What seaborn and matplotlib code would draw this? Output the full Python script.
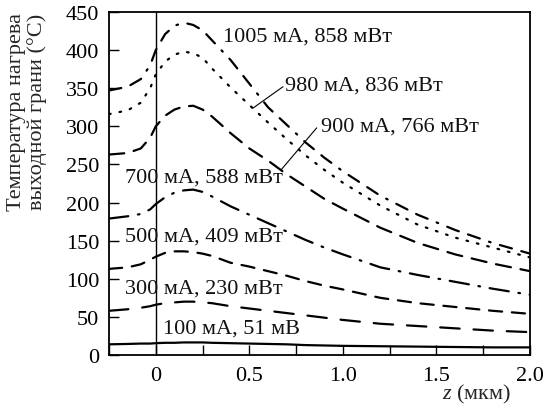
import numpy as np
import pandas as pd
import seaborn as sns
import matplotlib.pyplot as plt

# z coordinate (мкм) and face heating temperature (°C) for each pump current
z = [-0.25, -0.15, -0.08, -0.03, 0.0, 0.05, 0.1, 0.15, 0.2, 0.25, 0.3, 0.4,
     0.5, 0.6, 0.7, 0.8, 0.9, 1.0, 1.2, 1.4, 1.6, 1.8, 2.0]

t_1005 = [347, 352, 362, 380, 400, 421, 432, 436, 433, 426, 413, 387,
          356, 325, 302, 279, 259, 241, 209, 184, 164, 147, 133]
t_980 = [316, 321, 331, 350, 368, 385, 394, 398, 396, 390, 376, 351,
         328, 305, 283, 262, 243, 226, 196, 171, 154, 141, 128]
t_900 = [263, 265, 271, 285, 300, 314, 322, 326, 327, 322, 313, 291,
         271, 255, 237, 221, 205, 192, 167, 147, 132, 120, 110]
t_700 = [179, 182, 185, 191, 198, 207, 213, 216, 217, 214, 208, 195,
         184, 173, 162, 151, 141, 132, 115, 105, 96, 87, 79]
t_500 = [113, 115, 119, 125, 129, 134, 136, 136, 135, 133, 130, 121,
         116, 110, 104, 97, 91, 86, 75, 68, 63, 58, 54]
t_300 = [58, 60, 62, 64, 66, 68, 69, 70, 70, 69, 68, 64,
         61, 58, 55, 52, 49, 46, 41, 38, 35, 32, 30]
t_100 = [14, 14.5, 15, 15, 15.5, 16, 16, 16.5, 16.5, 16.5, 16, 15.5,
         15, 14.5, 14, 13, 12.5, 12, 11.5, 11, 10.5, 10, 10]

labels = ["1005 мА, 858 мВт", "980 мА, 836 мВт", "900 мА, 766 мВт",
          "700 мА, 588 мВт", "500 мА, 409 мВт", "300 мА, 230 мВт",
          "100 мА, 51 мВ"]
curves = [t_1005, t_980, t_900, t_700, t_500, t_300, t_100]

# line styles (points, unscaled)
styles = [(0, (9, 7, 9, 7, 1.2, 7)),
          (0, (1.2, 6.5)),
          (0, (11, 7)),
          (0, (14, 7, 1.2, 7)),
          (0, (9.5, 7)),
          (0, (14, 10)),
          '-']

# label anchor positions (data coords, left edge, vertical centre)
label_pos = [(0.36, 418), (0.69, 354), (0.885, 300), (-0.165, 233),
             (-0.165, 156), (-0.165, 88), (0.04, 35)]

sns.set_style("ticks")
plt.rcParams['font.family'] = ['Liberation Serif', 'DejaVu Serif']
plt.rcParams['mathtext.fontset'] = 'custom'
plt.rcParams['mathtext.it'] = 'Liberation Serif:italic'
plt.rcParams['mathtext.rm'] = 'Liberation Serif'
plt.rcParams['lines.scale_dashes'] = False

fig = plt.figure(figsize=(5.46, 4.14), dpi=100)
ax = fig.add_axes([109 / 546, 58 / 414, 421 / 546, 343 / 414])

for vals, ls in zip(curves, styles):
    df = pd.DataFrame({'z': z, 'T': vals})
    sns.lineplot(data=df, x='z', y='T', ax=ax, color='black', lw=1.6,
                 linestyle=ls, dash_capstyle='round')

ax.axvline(0, color='black', lw=1.0)

for txt, (x, y) in zip(labels, label_pos):
    ax.text(x, y, txt, fontsize=16, ha='left', va='center', color='#111111')

# leader lines for the upper labels
ax.plot([0.52, 0.68], [324, 352], color='black', lw=0.8)
ax.plot([0.67, 0.86], [243, 298], color='black', lw=0.8)

ax.set_xlim(-0.25, 2.0)
ax.set_ylim(0, 450)
ax.set_xticks([0, 0.5, 1.0, 1.5, 2.0])
ax.set_xticklabels(['0', '0.5', '1.0', '1.5', '2.0'])
ax.set_xticks(np.arange(-0.25, 2.01, 0.25), minor=True)
ax.set_yticks(np.arange(0, 451, 50))
ax.tick_params(axis='both', which='both', direction='in', length=7,
               width=1.0, labelsize=16, colors='black')
ax.tick_params(axis='x', pad=8)
ax.tick_params(axis='y', pad=7)

for s in ax.spines.values():
    s.set_linewidth(1.3)
    s.set_color('black')
    s.set_visible(True)

ax.set_xlabel('$z$ (мкм)', fontsize=16)
ax.xaxis.set_label_coords(0.874, -0.08)
ax.set_ylabel('')

fig.text(27 / 546, 1 - 13 / 414, 'Температура нагрева\nвыходной грани (°C)',
         rotation=90, ha='center', va='top', multialignment='center',
         fontsize=16, linespacing=1.1)

fig.savefig('out.png', dpi=100)
